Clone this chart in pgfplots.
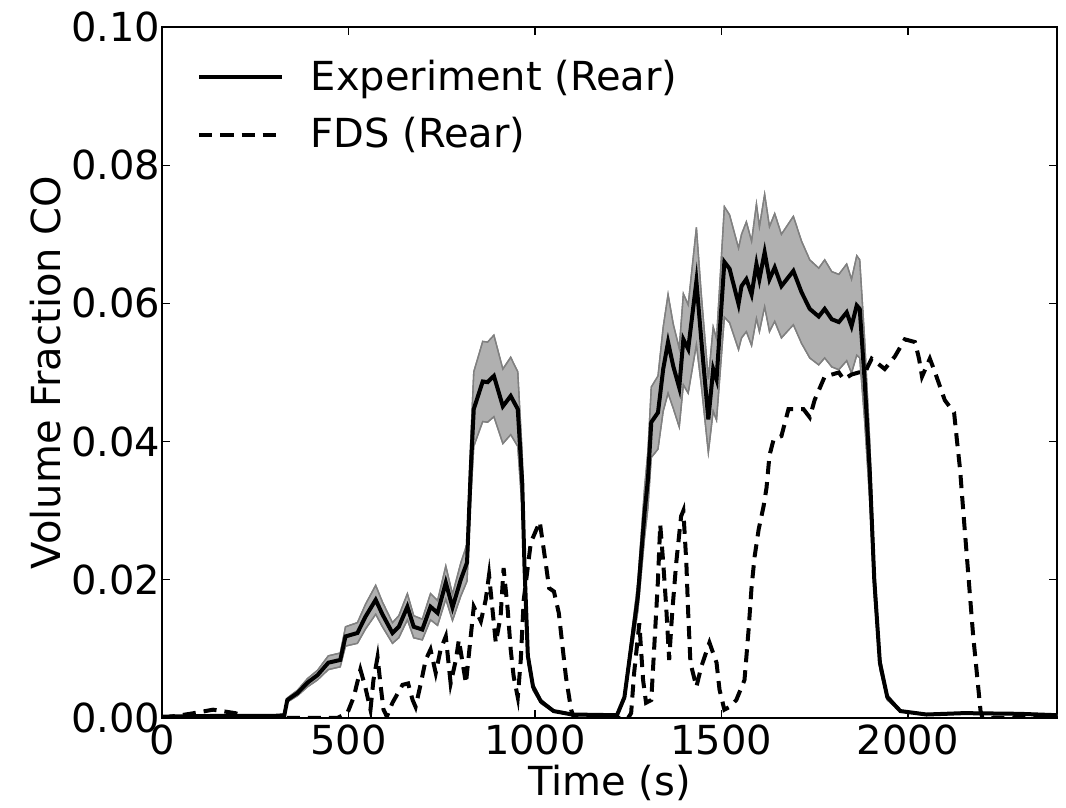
\documentclass[border=0pt]{standalone}
\usepackage{fontspec}
\setmainfont{DejaVu Sans}
\usepackage{pgfplots}
\pgfplotsset{compat=1.18}
\usepgfplotslibrary{fillbetween}
\usepackage{pgfplotstable}

\definecolor{bandfill}{RGB}{176,176,176}
\definecolor{bandedge}{RGB}{128,128,128}

\pgfplotstableread{
t y lo hi
0 0.0002 0.0001 0.0003
150 0.0003 0.0002 0.0004
300 0.0003 0.0002 0.0004
328 0.0004 0.0003 0.0005
336 0.0026 0.0023 0.0029
363 0.0036 0.0032 0.0040
390 0.0051 0.0045 0.0057
417 0.0062 0.0055 0.0069
446 0.0080 0.0070 0.0090
478 0.0084 0.0074 0.0094
492 0.0118 0.0104 0.0132
524 0.0123 0.0108 0.0138
546 0.0147 0.0129 0.0165
573 0.0171 0.0150 0.0192
591 0.0150 0.0132 0.0168
618 0.0123 0.0108 0.0138
635 0.0132 0.0116 0.0148
658 0.0161 0.0142 0.0180
675 0.0132 0.0116 0.0148
698 0.0128 0.0113 0.0143
720 0.0161 0.0142 0.0180
739 0.0152 0.0134 0.0170
761 0.0196 0.0172 0.0220
779 0.0160 0.0141 0.0179
801 0.0200 0.0176 0.0224
818 0.0225 0.0198 0.0252
828 0.0360 0.0317 0.0403
836 0.0447 0.0393 0.0501
860 0.0487 0.0429 0.0545
873 0.0486 0.0428 0.0544
890 0.0495 0.0436 0.0554
914 0.0451 0.0397 0.0505
935 0.0466 0.0410 0.0522
954 0.0447 0.0393 0.0501
966 0.0340 0.0299 0.0381
972 0.0220 0.0194 0.0246
981 0.0090 0.0079 0.0101
995 0.0045 0.0040 0.0050
1016 0.0024 0.0021 0.0027
1050 0.0010 0.0009 0.0011
1100 0.0005 0.0004 0.0006
1220 0.0004 0.0003 0.0005
1240 0.0030 0.0026 0.0034
1258 0.0103 0.0091 0.0115
1276 0.0176 0.0155 0.0197
1294 0.0297 0.0261 0.0333
1303 0.0345 0.0304 0.0386
1312 0.0428 0.0377 0.0479
1330 0.0442 0.0389 0.0495
1344 0.0505 0.0444 0.0566
1357 0.0544 0.0470 0.0613
1371 0.0509 0.0448 0.0570
1387 0.0478 0.0421 0.0535
1398 0.0548 0.0482 0.0614
1411 0.0534 0.0470 0.0598
1433 0.0632 0.0540 0.0710
1446 0.0548 0.0482 0.0614
1465 0.0432 0.0384 0.0490
1478 0.0505 0.0444 0.0566
1487 0.0490 0.0431 0.0549
1508 0.0660 0.0580 0.0740
1522 0.0650 0.0572 0.0728
1546 0.0599 0.0533 0.0680
1554 0.0625 0.0550 0.0700
1567 0.0635 0.0559 0.0718
1581 0.0613 0.0539 0.0690
1594 0.0657 0.0578 0.0744
1602 0.0635 0.0559 0.0711
1616 0.0674 0.0595 0.0758
1629 0.0635 0.0559 0.0711
1643 0.0652 0.0574 0.0730
1661 0.0625 0.0550 0.0700
1693 0.0647 0.0569 0.0726
1715 0.0616 0.0542 0.0690
1737 0.0592 0.0521 0.0663
1761 0.0581 0.0511 0.0651
1777 0.0592 0.0521 0.0663
1796 0.0577 0.0508 0.0646
1815 0.0573 0.0504 0.0642
1836 0.0587 0.0517 0.0657
1849 0.0567 0.0499 0.0635
1863 0.0597 0.0525 0.0669
1871 0.0592 0.0521 0.0663
1884 0.0490 0.0431 0.0549
1898 0.0355 0.0312 0.0398
1910 0.0200 0.0176 0.0224
1925 0.0080 0.0070 0.0090
1945 0.0030 0.0026 0.0034
1980 0.0010 0.0009 0.0011
2050 0.0005 0.0004 0.0006
2150 0.0007 0.0006 0.0008
2300 0.0006 0.0005 0.0007
2400 0.0004 0.0003 0.0005
}\expdata

\pgfplotstableread{
t y
0 0.0000
75 0.0006
137 0.0012
196 0.0007
240 0.0000
470 0.0000
497 0.0007
514 0.0030
532 0.0070
545 0.0045
559 0.0012
567 0.0055
578 0.0088
586 0.0048
594 0.0012
603 0.0002
618 0.0022
645 0.0048
660 0.0050
672 0.0026
680 0.0016
694 0.0050
707 0.0084
720 0.0099
734 0.0065
747 0.0099
761 0.0118
774 0.0050
788 0.0084
796 0.0113
815 0.0050
836 0.0161
855 0.0140
868 0.0171
877 0.0207
888 0.0147
895 0.0109
908 0.0147
916 0.0217
927 0.0157
935 0.0099
943 0.0060
954 0.0030
962 0.0084
970 0.0171
989 0.0254
1013 0.0284
1030 0.0220
1038 0.0188
1051 0.0183
1064 0.0152
1083 0.0060
1097 0.0012
1105 0.0000
1250 0.0000
1258 0.0007
1266 0.0065
1280 0.0137
1290 0.0055
1298 0.0022
1312 0.0026
1320 0.0103
1330 0.0200
1336 0.0280
1344 0.0225
1352 0.0161
1360 0.0084
1368 0.0152
1379 0.0225
1392 0.0292
1398 0.0300
1406 0.0225
1411 0.0152
1417 0.0080
1433 0.0045
1446 0.0074
1468 0.0109
1487 0.0080
1495 0.0041
1508 0.0012
1522 0.0016
1540 0.0026
1562 0.0055
1573 0.0128
1581 0.0190
1589 0.0233
1600 0.0273
1613 0.0306
1621 0.0333
1629 0.0380
1640 0.0403
1661 0.0408
1680 0.0447
1720 0.0447
1737 0.0435
1750 0.0460
1777 0.0494
1815 0.0500
1828 0.0490
1849 0.0497
1868 0.0500
1885 0.0500
1903 0.0520
1938 0.0505
1965 0.0523
1992 0.0548
2019 0.0544
2030 0.0520
2038 0.0494
2051 0.0510
2059 0.0520
2073 0.0500
2099 0.0460
2124 0.0442
2132 0.0400
2140 0.0360
2150 0.0290
2175 0.0120
2195 0.0010
2200 0.0000
2400 0.0000
}\fdsdata

\begin{document}
\begin{tikzpicture}
\begin{axis}[
  scale only axis,
  width=335.6pt, height=259.1pt,
  xmin=0, xmax=2400, ymin=0, ymax=0.1,
  xtick={0,500,1000,1500,2000},
  ytick={0,0.02,0.04,0.06,0.08,0.10},
  scaled y ticks=false,
  scaled x ticks=false,
  yticklabel style={/pgf/number format/fixed,/pgf/number format/fixed zerofill,/pgf/number format/precision=2, xshift=2.9pt},
  xticklabel style={/pgf/number format/1000 sep={}, yshift=1pt},
  /pgf/number format/assume math mode=true,
  tick label style={font=\fontsize{15}{17}\selectfont},
  label style={font=\fontsize{15}{17}\selectfont},
  tick align=inside, tick pos=both, major tick length=3pt,
  minor tick num=0,
  axis line style={line width=0.6pt},
  every tick/.style={black, line width=0.5pt},
  xlabel={Time (s)},
  ylabel={Volume Fraction CO},
  xlabel style={at={(axis description cs:0.5,-0.1129)}, anchor=base},
  ylabel style={at={(axis description cs:-0.1129,0.5)}, anchor=base, rotate=0},
  legend style={draw=none, fill=none, at={(axis description cs:0.03,0.968)}, anchor=north west,
    font=\fontsize{15}{17}\selectfont, row sep=4.5pt,
    /tikz/every odd column/.append style={column sep=8pt}},
  legend cell align=left,
  legend image code/.code={\draw[#1] (0pt,0pt) -- (31pt,0pt);},
]
\addplot[name path=hi, draw=bandedge, line width=0.5pt, forget plot] table[x=t, y=hi] {\expdata};
\addplot[name path=lo, draw=bandedge, line width=0.5pt, forget plot] table[x=t, y=lo] {\expdata};
\addplot[fill=bandfill, draw=none, forget plot] fill between[of=hi and lo];
\addplot[draw=bandedge, line width=0.5pt, forget plot] table[x=t, y=hi] {\expdata};
\addplot[draw=bandedge, line width=0.5pt, forget plot] table[x=t, y=lo] {\expdata};
\addplot[black, line width=1.5pt] table[x=t, y=y] {\expdata};
\addlegendentry{Experiment (Rear)}
\addplot[black, line width=1.5pt, dash pattern=on 4.9pt off 3pt] table[x=t, y=y] {\fdsdata};
\addlegendentry{FDS (Rear)}
\end{axis}
\pgfresetboundingbox
\path[use as bounding box] ([xshift=-60.75pt,yshift=-33.75pt]current axis.south west) rectangle ([xshift=3.375pt,yshift=10.125pt]current axis.north east);
\end{tikzpicture}
\end{document}
